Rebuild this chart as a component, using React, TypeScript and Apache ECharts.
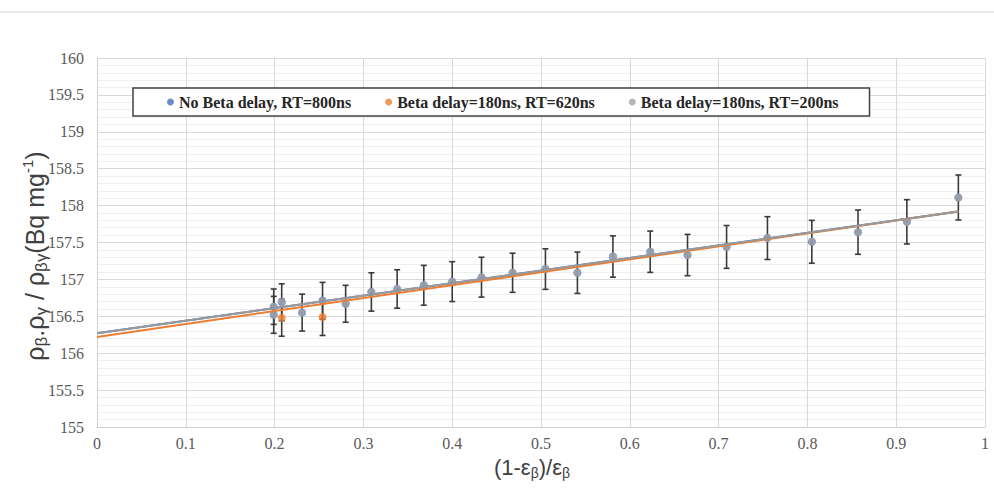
import React, { useEffect, useRef } from "react";
import * as echarts from "echarts";

// ---- data ----
const xVals = [0.199, 0.199, 0.208, 0.231, 0.254, 0.280, 0.309, 0.338, 0.368, 0.400, 0.433, 0.468, 0.505, 0.541, 0.581, 0.623, 0.665, 0.709, 0.755, 0.805, 0.857, 0.912, 0.970];
const rt200Y = [156.63, 156.52, 156.69, 156.55, 156.71, 156.67, 156.83, 156.87, 156.92, 156.97, 157.03, 157.09, 157.14, 157.09, 157.31, 157.375, 157.33, 157.44, 157.56, 157.51, 157.64, 157.78, 158.11];
const rt200Err = [0.24, 0.25, 0.25, 0.25, 0.25, 0.25, 0.26, 0.26, 0.27, 0.27, 0.27, 0.265, 0.275, 0.28, 0.28, 0.28, 0.28, 0.29, 0.29, 0.29, 0.30, 0.30, 0.305];

// "No Beta delay" points lie underneath the grey ones in the reference
const noDelayX = xVals;
const noDelayY = rt200Y;

const rt620X = [0.208, 0.254];
const rt620Y = [156.48, 156.49];
const rt620Err = [0.25, 0.25];

// linear trend lines (end points)
const trendX = [0, 0.97];
const trendNoDelay = [156.27, 157.92];
const trend620 = [156.22, 157.92];
const trend200 = [156.27, 157.92];

const names = ["No Beta delay, RT=800ns", "Beta delay=180ns, RT=620ns", "Beta delay=180ns, RT=200ns"];
const colors = ["#4472C4", "#ED7D31", "#A5A5A5"];

const pts = (xs: number[], ys: number[]) => xs.map((x, i) => [x, ys[i]]);
const errs = (xs: number[], ys: number[], es: number[]) => xs.map((x, i) => [x, ys[i] - es[i], ys[i] + es[i]]);

const errRender = (params: any, api: any) => {
  const x = api.value(0);
  const lo = api.coord([x, api.value(1)]);
  const hi = api.coord([x, api.value(2)]);
  const w = 3;
  const style = { stroke: "#3a3a3a", lineWidth: 1.6 };
  return {
    type: "group",
    children: [
      { type: "line", shape: { x1: lo[0], y1: lo[1], x2: hi[0], y2: hi[1] }, style },
      { type: "line", shape: { x1: lo[0] - w, y1: lo[1], x2: lo[0] + w, y2: lo[1] }, style },
      { type: "line", shape: { x1: hi[0] - w, y1: hi[1], x2: hi[0] + w, y2: hi[1] }, style },
    ],
  };
};

export default function App() {
  const ref = useRef<HTMLDivElement>(null);
  useEffect(() => {
    if (!ref.current) return;
    const chart = echarts.init(ref.current, undefined, { renderer: "svg" });
    const serif = "Liberation Serif";
    const sans = "Liberation Sans";
    chart.setOption({
      animation: false,
      backgroundColor: "#ffffff",
      grid: { left: 97, right: 9, top: 58, bottom: 64, containLabel: false },
      legend: {
        data: names,
        left: 133,
        top: 88,
        padding: [6, 31, 6, 34],
        itemGap: 34,
        itemWidth: 7,
        itemHeight: 7,
        icon: "circle",
        borderColor: "#404040",
        borderWidth: 1.5,
        backgroundColor: "#ffffff",
        textStyle: { fontFamily: serif, fontWeight: "bold", fontSize: 16, color: "#262626", lineHeight: 14 },
      },
      xAxis: {
        type: "value",
        min: 0,
        max: 1,
        interval: 0.1,
        axisLine: { show: true, lineStyle: { color: "#d0d0d0", width: 1 } },
        axisTick: { show: false },
        axisLabel: { fontFamily: serif, fontSize: 16, color: "#595959", margin: 8 },
        splitLine: { show: true, lineStyle: { color: "#d9d9d9", width: 1 } },
      },
      yAxis: {
        type: "value",
        min: 155,
        max: 160,
        interval: 0.5,
        axisLine: { show: true, lineStyle: { color: "#d0d0d0", width: 1 } },
        axisTick: { show: false },
        axisLabel: { fontFamily: serif, fontSize: 16, color: "#595959", margin: 13 },
        splitLine: { show: true, lineStyle: { color: "#d9d9d9", width: 1 } },
        minorTick: { show: false, splitNumber: 5 },
        minorSplitLine: { show: true, lineStyle: { color: "#efefef", width: 1 } },
      },
      graphic: [
        { type: "line", shape: { x1: 0, y1: 12, x2: 994, y2: 12 }, style: { stroke: "#d9d9d9", lineWidth: 1 } },
        {
          type: "text",
          x: 35,
          y: 256,
          rotation: Math.PI / 2,
          style: {
            text: "{m|ρ}{s|β}{m|.ρ}{s|γ}{m| / ρ}{s|βγ}{m|(Bq mg}{u|-1}{m|)}",
            align: "center",
            verticalAlign: "middle",
            fill: "#404040",
            rich: {
              m: { fontFamily: sans, fontSize: 25, lineHeight: 30, fill: "#404040", verticalAlign: "middle" },
              s: { fontFamily: sans, fontSize: 17, lineHeight: 15, fill: "#404040", verticalAlign: "bottom" },
              u: { fontFamily: sans, fontSize: 15, lineHeight: 15, fill: "#404040", verticalAlign: "top" },
            },
          },
        },
        {
          type: "text",
          x: 532,
          y: 467,
          style: {
            text: "{m|(1-ε}{s|β}{m|)/ε}{s|β}",
            align: "center",
            verticalAlign: "middle",
            fill: "#404040",
            rich: {
              m: { fontFamily: sans, fontSize: 22, lineHeight: 26, fill: "#404040", verticalAlign: "middle" },
              s: { fontFamily: sans, fontSize: 14, lineHeight: 12, fill: "#404040", verticalAlign: "bottom" },
            },
          },
        },
      ],
      series: [
        { name: "err620", type: "custom", renderItem: errRender, data: errs(rt620X, rt620Y, rt620Err), z: 2, silent: true },
        { name: "err200", type: "custom", renderItem: errRender, data: errs(xVals, rt200Y, rt200Err), z: 2, silent: true },
        { name: names[0], type: "scatter", data: pts(noDelayX, noDelayY), symbol: "circle", symbolSize: 8, itemStyle: { color: colors[0] }, z: 3 },
        { name: names[1], type: "scatter", data: pts(rt620X, rt620Y), symbol: "circle", symbolSize: 8, itemStyle: { color: colors[1] }, z: 4 },
        { name: names[2], type: "scatter", data: pts(xVals, rt200Y), symbol: "circle", symbolSize: 8, itemStyle: { color: colors[2] }, z: 5 },
        { name: "trendNoDelay", type: "line", data: pts(trendX, trendNoDelay), showSymbol: false, lineStyle: { color: colors[0], width: 2 }, z: 6, silent: true },
        { name: "trend620", type: "line", data: pts(trendX, trend620), showSymbol: false, lineStyle: { color: colors[1], width: 2 }, z: 7, silent: true },
        { name: "trend200", type: "line", data: pts(trendX, trend200), showSymbol: false, lineStyle: { color: "#9a9a9a", width: 2 }, z: 8, silent: true },
      ],
    });
    return () => chart.dispose();
  }, []);
  return <div ref={ref} style={{ width: 994, height: 491, position: "fixed", left: 0, top: 0 }} />;
}
